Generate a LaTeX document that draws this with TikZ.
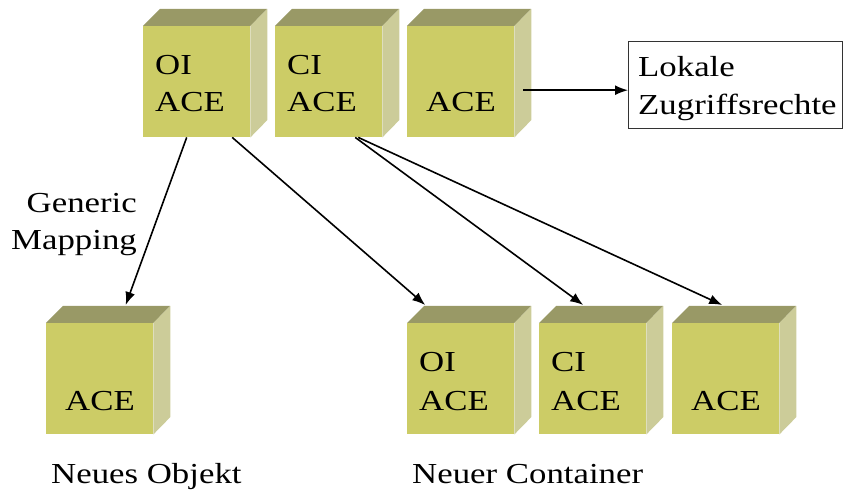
\documentclass[tikz,border=0pt]{standalone}
\usepackage{fontspec}
\setmainfont{Liberation Serif}[FakeStretch=1.2]
\usetikzlibrary{arrows.meta,calc}
\definecolor{cfront}{RGB}{204,204,102}
\definecolor{ctop}{RGB}{153,153,102}
\definecolor{cside}{RGB}{204,204,153}
\newcommand\cubefaces[1]{%
  \fill[ctop] (#1.north west) -- ++(17,-17) -- ++(107,0) -- (#1.north east) -- cycle;
  \fill[cside] (#1.north east) -- ++(17,-17) -- ++(0,111) -- (#1.south east) -- cycle;}
\begin{document}
\begin{tikzpicture}[x=1pt,y=-1pt,
  cube/.style={rectangle, fill=cfront, minimum width=107pt, minimum height=111pt, inner sep=0pt, anchor=north west},
  lbl/.style={font=\fontsize{29}{37}\selectfont, inner sep=0pt},
  infobox/.style={rectangle, draw=black!80, line width=0.8pt, minimum width=214pt, minimum height=87pt, anchor=north west, inner sep=0pt},
  arr/.style={-{Latex[length=13pt,width=10pt]}, line width=1.6pt}]
\useasboundingbox (0,0) rectangle (844,494);
% top cubes
\node[cube] (c1) at (143,26) {};
\node[cube] (c2) at (275,26) {};
\node[cube] (c3) at (407,26) {};
% bottom cubes
\node[cube] (d0) at (46,323) {};
\node[cube] (d1) at (407,323) {};
\node[cube] (d2) at (539,323) {};
\node[cube] (d3) at (672,323) {};
\cubefaces{c1}\cubefaces{c2}\cubefaces{c3}
\cubefaces{d0}\cubefaces{d1}\cubefaces{d2}\cubefaces{d3}
% cube texts
\node[lbl, anchor=base west] (t1a) at (155,75) {OI};
\node[lbl, anchor=base west] (t1b) at (155,112) {ACE};
\node[lbl, anchor=base west] (t2a) at (287,75) {CI};
\node[lbl, anchor=base west] (t2b) at (287,112) {ACE};
\node[lbl, anchor=base] (t3b) at (461,112) {ACE};
\node[lbl, anchor=base] (u0b) at (100,410) {ACE};
\node[lbl, anchor=base west] (u1a) at (419,372) {OI};
\node[lbl, anchor=base west] (u1b) at (419,410) {ACE};
\node[lbl, anchor=base west] (u2a) at (551,372) {CI};
\node[lbl, anchor=base west] (u2b) at (551,410) {ACE};
\node[lbl, anchor=base] (u3b) at (726,410) {ACE};
% box
\node[infobox] (box) at (628,41) {};
\node[lbl, anchor=base west] (bx1) at (638,77) {Lokale};
\node[lbl, anchor=base west] (bx2) at (638,115) {Zugriffsrechte};
% labels
\node[lbl, anchor=base east] (g1) at (137,213) {Generic};
\node[lbl, anchor=base east] (g2) at (137,250) {Mapping};
\node[lbl, anchor=base west] (n1) at (51,483) {Neues Objekt};
\node[lbl, anchor=base west] (n2) at (412,483) {Neuer Container};
% arrows
\coordinate (s3) at ($(c3.east)+(9,8.5)$);
\draw[arr] (s3) -- (box.west |- s3);
\draw[arr] ($(c1.south)+(-10,0)$) -- ($(d0.north)+(26,-18)$);
\draw[arr] ($(c1.south)+(35.5,0)$) -- ($(d1.north)+(-35.5,-18)$);
\draw[arr] ($(c2.south)+(26.5,0)$) -- ($(d2.north)+(-9.5,-18)$);
\draw[arr] ($(c2.south)+(29.5,0)$) -- ($(d3.north)+(-3.5,-18)$);
\end{tikzpicture}
\end{document}
